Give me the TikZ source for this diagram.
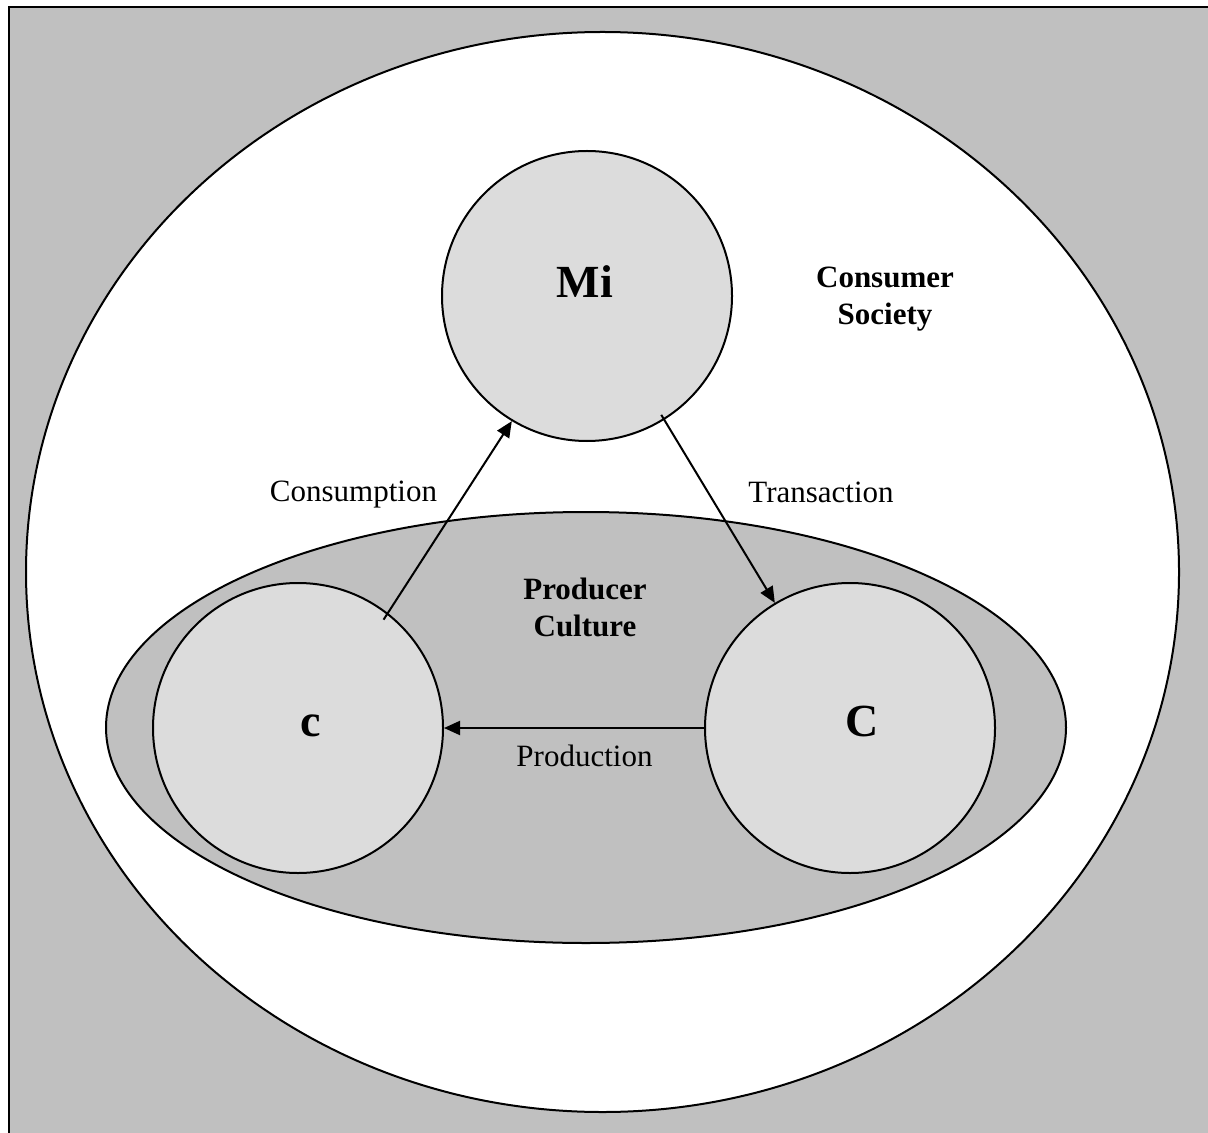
\documentclass[tikz,border=0pt]{standalone}
\usepackage{fontspec}
\setmainfont{Liberation Serif}
\usetikzlibrary{shapes.geometric,arrows.meta,calc}
\definecolor{panelgray}{RGB}{192,192,192}
\definecolor{discgray}{RGB}{220,220,220}

\begin{document}
\begin{tikzpicture}[x=0.5pt,y=-0.5pt,
  disc/.style={circle,draw=black,line width=1pt,fill=discgray,minimum size=145pt,inner sep=0pt},
  region/.style={ellipse,draw=black,line width=1pt,inner sep=0pt},
  flow/.style={draw=black,line width=1pt,-{Triangle[length=8pt,width=7pt]}},
  tag/.style={font=\fontsize{15.5}{18.5}\selectfont,anchor=base},
  bigtag/.style={font=\fontsize{15.5}{18.5}\selectfont\bfseries,align=center,anchor=base},
  letter/.style={font=\fontsize{23}{27}\selectfont\bfseries,anchor=base}]
\useasboundingbox (0,0) rectangle (1208,1133);
% grey panel with its top and left frame lines
\fill[panelgray] (9,7) rectangle (1208,1133);
\draw[line width=1.2pt] (9,1133) -- (9,7) -- (1208,7);

% regions
\node[region,fill=white,minimum width=576.5pt,minimum height=540pt] (society) at (602.5,572) {};
\node[region,fill=panelgray,minimum width=480pt,minimum height=215.5pt] (producer) at (586,727.5) {};

% the three discs
\node[disc] (Mi) at (587,296) {};
\node[disc] (c) at (298,728) {};
\node[disc] (C) at (850,728) {};

% disc letters
\node[letter] (MiText) at (585,298) {Mi};
\node[letter] (cText) at (311,736) {c};
\node[letter] (CText) at (862,736) {C};

% region titles (base anchor sits on the second line)
\node[bigtag] (societyText) at (885,325) {Consumer\\Society};
\node[bigtag] (producerText) at (585,636) {Producer\\Culture};

% flows
\draw[flow,shorten <=-4pt] (c.52) -- (Mi.239);
\draw[flow] ($(Mi.center)!0.96!(Mi.302)$) -- (C.121);
\draw[flow] (C.west) -- (c.east);

% flow labels
\node[tag] (consumption) at (353.5,501) {Consumption};
\node[tag] (transaction) at (821,502) {Transaction};
\node[tag] (production) at (584.5,766) {Production};
\end{tikzpicture}
\end{document}
